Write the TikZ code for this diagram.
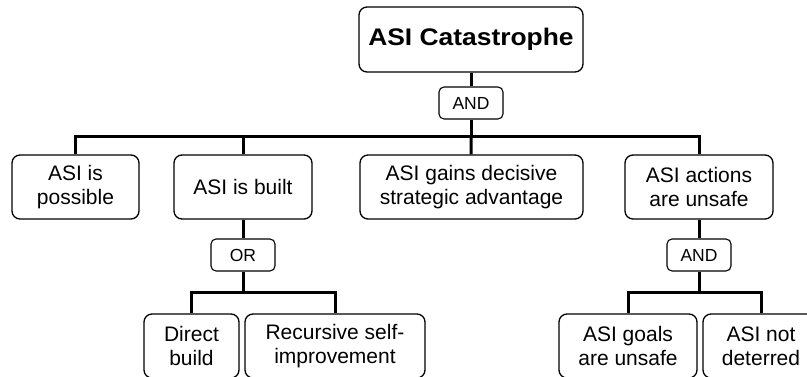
\documentclass[tikz,border=0pt]{standalone}
\usepackage{fontspec}
\setmainfont{Liberation Sans}
\newfontfamily\titlefont[FakeStretch=1.1]{Liberation Sans}
\def\rowone{187}
\def\rowgate{255}
\def\rowtwo{346}
\def\busone{137}
\def\bustwo{293}

\begin{document}
\begin{tikzpicture}[x=1pt,y=-1pt,
		blk/.style={draw,rounded corners=8pt,line width=1.3pt,align=center,
			minimum height=64pt,inner sep=2pt,font=\fontsize{21}{24}\selectfont},
		gate/.style={draw,rounded corners=5pt,line width=1.1pt,minimum width=64pt,
			minimum height=32pt,inner sep=1pt,font=\fontsize{17.5}{20}\selectfont},
		w/.style={line width=3pt}]
		\useasboundingbox (0,0) rectangle (807,377);
		
		% ============ Wurzel ============
		\node[blk,minimum width=224pt,minimum height=65pt,
			font=\titlefont\fontsize{24}{28}\selectfont\bfseries]
			(top) at (471,39.5) {ASI Catastrophe};
		\node[gate] (and1) at (471,103) {AND};
		\coordinate (b1) at (471,\busone);
		
		% ============ erste Ebene ============
		\node[blk,minimum width=127pt] (possible) at (75.5,\rowone) {ASI is\\possible};
		\node[blk,minimum width=138pt] (built) at (243,\rowone) {ASI is built};
		\node[blk,minimum width=223pt] (gains) at (471.5,\rowone) {ASI gains decisive\\strategic advantage};
		\node[blk,minimum width=148pt] (unsafe) at (699,\rowone) {ASI actions\\are unsafe};
		\draw[w] (top) -- (and1);
		\draw[w] (and1) -- (b1);
		\draw[w] (b1) -| (possible);
		\draw[w] (b1) -| (built);
		\draw[w] (b1) -- (gains);
		\draw[w] (b1) -| (unsafe);
		
		% ============ ASI is built: OR ============
		\node[gate] (or1) at (243,\rowgate) {OR};
		\coordinate (b2) at (243,\bustwo);
		\node[blk,minimum width=95pt] (direct) at (191.5,\rowtwo) {Direct\\build};
		\node[blk,minimum width=180pt] (recursive) at (335,\rowtwo) {Recursive self-\\improvement};
		\draw[w] (built) -- (or1);
		\draw[w] (or1) -- (b2);
		\draw[w] (b2) -| (direct);
		\draw[w] (b2) -| (recursive);
		
		% ============ ASI actions are unsafe: AND ============
		\node[gate] (and2) at (699,\rowgate) {AND};
		\coordinate (b3) at (699,\bustwo);
		\node[blk,minimum width=138pt] (goals) at (628,\rowtwo) {ASI goals\\are unsafe};
		\node[blk,minimum width=116pt] (deterred) at (761,\rowtwo) {ASI not\\deterred};
		\draw[w] (unsafe) -- (and2);
		\draw[w] (and2) -- (b3);
		\draw[w] (b3) -| (goals);
		\draw[w] (b3) -| (deterred);
		
	\end{tikzpicture}
\end{document}
